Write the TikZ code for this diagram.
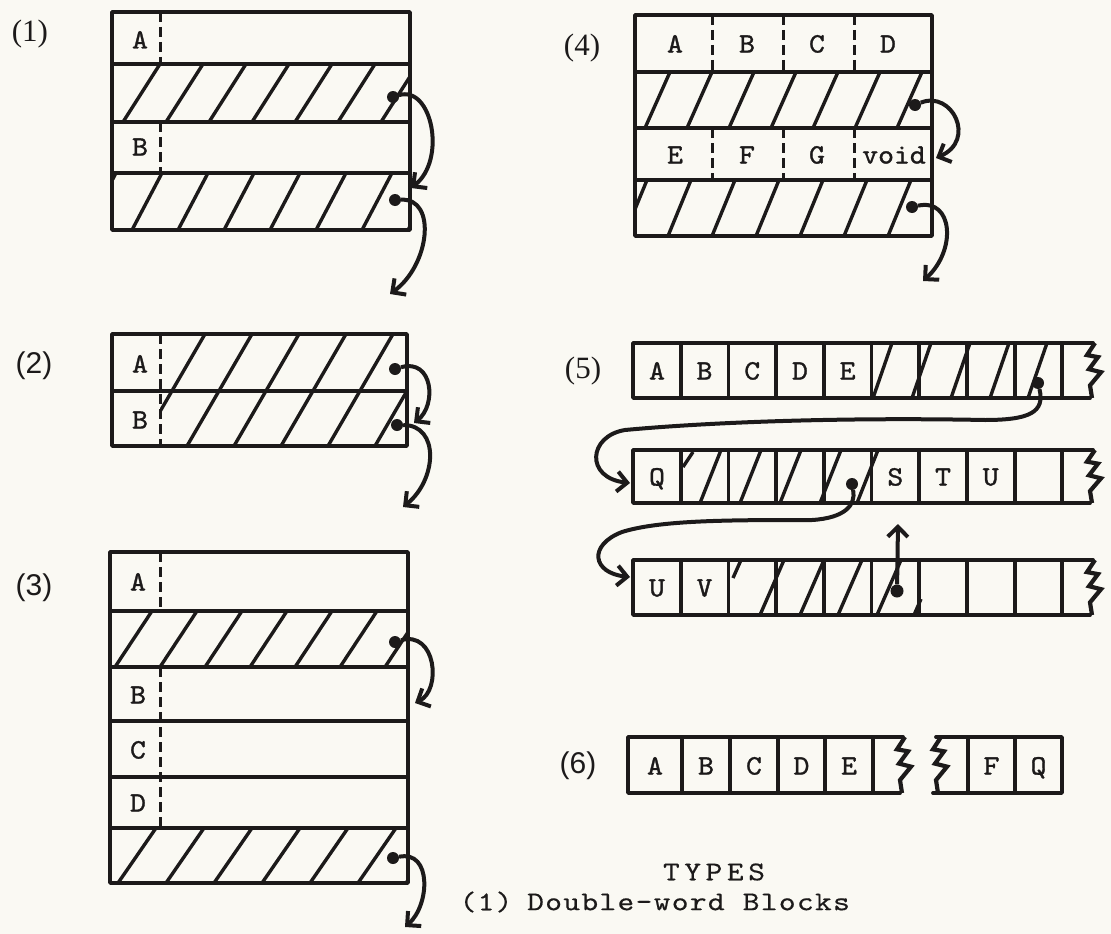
\documentclass[tikz,border=0pt]{standalone}
\usepackage{fontspec}
\newfontfamily\tagserif{Liberation Serif}
\newfontfamily\tagsans{Liberation Sans}
\newfontfamily\cellfont[FakeBold=1.2,FakeStretch=1.08]{lmmono10-regular.otf}
\newfontfamily\keyfont[FakeBold=0.4,FakeStretch=1.18,LetterSpace=5]{lmmono10-regular.otf}
\newfontfamily\typesfont[FakeBold=0.4,FakeStretch=1.18,LetterSpace=17]{lmmono10-regular.otf}
\usepackage{tikz}
\usetikzlibrary{arrows.meta}

\definecolor{paper}{RGB}{250,249,243}
\definecolor{ink}{RGB}{28,26,26}

% hatched band: left, top, right, bottom, first x, second x, rise
\newcommand\hatchband[7]{%
  \begin{scope}
    \clip (#1,#2) rectangle (#3,#4);
    \foreach \hx in {#5,#6,...,#3}
      \draw[hatch] (\hx,#4) -- ({\hx+#7},#2);
  \end{scope}}

% torn end of a word row: x, top, bottom
\newcommand\tearedge[3]{%
  \draw[tear] (#1,#2) -- ++(-8,{0.22*(#3-#2)}) -- ++(11,2) -- ++(-9,{0.22*(#3-#2)})
    -- ++(12,3) -- ++(-11,{0.24*(#3-#2)}) -- (#1-3,#3);}

\begin{document}
\begin{tikzpicture}[
        x=1pt, y=-1pt, color=ink,
        rule/.style={line width=3.8pt, line cap=round, line join=round},
        divider/.style={line width=3pt, dash pattern=on 10pt off 5pt},
        hatch/.style={line width=3.4pt},
        tear/.style={line width=4.2pt, line join=miter},
        ptr/.style={line width=4pt, -{Straight Barb[length=10pt,width=20pt]}},
        dot/.style={circle, fill, inner sep=0pt, minimum size=12pt},
        cell/.style={font=\fontsize{28}{28}\cellfont, inner sep=0pt, text height=17pt, text depth=0pt},
        tagA/.style={font=\fontsize{31}{31}\tagserif, inner sep=0pt},
        tagB/.style={font=\fontsize{30}{30}\tagsans, inner sep=0pt},
        note/.style={font=\fontsize{27}{27}\keyfont, inner sep=0pt}
    ]
        \fill[paper] (0,0) rectangle (1111,934);
        \useasboundingbox (0,0) rectangle (1111,934);

        % (1) double-word blocks
        \node[tagA] (n1) at (30,34) {(1)};
        \hatchband{112}{64}{410}{122}{123}{166}{37}
        \hatchband{112}{173}{410}{230}{86}{132}{30}
        \draw[divider] (160,12) -- (160,64) (160,122) -- (160,173);
        \draw[rule] (112,12) rectangle (410,230) (112,64) -- (410,64)
            (112,122) -- (410,122) (112,173) -- (410,173);
        \node[cell] (oneA) at (140,40) {A};
        \node[cell] (oneB) at (140,147) {B};
        \node[dot] (d1a) at (393,97) {};
        \node[dot] (d1b) at (395,200) {};
        \coordinate (t1a) at (411,188);
        \coordinate (t1b) at (390,294);
        \draw[ptr] (d1a) .. controls (432,85) and (447,160) .. (t1a);
        \draw[ptr] (d1b) .. controls (437,198) and (430,265) .. (t1b);

        % (2)
        \node[tagB] (n2) at (34,366) {(2)};
        \hatchband{160}{334}{407}{446}{140}{187}{65}
        \draw[divider] (160,334) -- (160,446);
        \draw[rule] (112,334) rectangle (407,446) (112,391) -- (407,391);
        \node[cell] (twoA) at (140,364) {A};
        \node[cell] (twoB) at (140,420) {B};
        \node[dot] (d2a) at (395,369) {};
        \node[dot] (d2b) at (397,425) {};
        \coordinate (t2a) at (414,423);
        \coordinate (t2b) at (403,507);
        \draw[ptr] (d2a) .. controls (433,358) and (437,405) .. (t2a);
        \draw[ptr] (d2b) .. controls (440,425) and (437,480) .. (t2b);

        % (3)
        \node[tagB] (n3) at (34,588) {(3)};
        \hatchband{110}{611}{408}{667}{115}{160}{37}
        \hatchband{110}{828}{408}{883}{70}{118}{38}
        \draw[divider] (160,552) -- (160,611) (160,667) -- (160,828);
        \draw[rule] (110,552) rectangle (408,883) (110,611) -- (408,611)
            (110,667) -- (408,667) (110,721) -- (408,721)
            (110,777) -- (408,777) (110,828) -- (408,828);
        \node[cell] (threeA) at (138,582) {A};
        \node[cell] (threeB) at (138,695) {B};
        \node[cell] (threeC) at (138,750) {C};
        \node[cell] (threeD) at (138,803) {D};
        \node[dot] (d3a) at (395,642) {};
        \node[dot] (d3b) at (393,858) {};
        \coordinate (t3a) at (415,703);
        \coordinate (t3b) at (405,927);
        \draw[ptr] (d3a) .. controls (436,630) and (442,690) .. (t3a);
        \draw[ptr] (d3b) .. controls (432,850) and (430,905) .. (t3b);

        % (4)
        \node[tagA] (n4) at (582,48) {(4)};
        \hatchband{635}{72}{932}{128}{645}{687}{25}
        \hatchband{635}{180}{932}{236}{624}{668}{23}
        \foreach \dx in {712,783,854}
            \draw[divider] (\dx,15) -- (\dx,72) (\dx,128) -- (\dx,180);
        \draw[rule] (635,15) rectangle (932,236) (635,72) -- (932,72)
            (635,128) -- (932,128) (635,180) -- (932,180);
        \node[cell] (fourA) at (675,44) {A};
        \node[cell] (fourB) at (747,44) {B};
        \node[cell] (fourC) at (817,44) {C};
        \node[cell] (fourD) at (888,44) {D};
        \node[cell] (fourE) at (675,155) {E};
        \node[cell] (fourF) at (747,155) {F};
        \node[cell] (fourG) at (817,155) {G};
        \node[cell] (fourV) at (894,155) {void};
        \node[dot] (d4a) at (915,105) {};
        \node[dot] (d4b) at (912,207) {};
        \coordinate (t4a) at (936,158);
        \coordinate (t4b) at (923,281);
        \draw[ptr] (d4a) .. controls (952,90) and (977,140) .. (t4a);
        \draw[ptr] (d4b) .. controls (953,198) and (957,250) .. (t4b);

        % (5) rows of single words
        \node[tagA] (n5) at (583,371) {(5)};
        \foreach \rt/\rb in {343/398,450/503,560/615} {
            \draw[rule] (1093,\rt) -- (633,\rt) -- (633,\rb) -- (1090,\rb);
            \foreach \cx in {680.7,728.4,776.1,823.8,871.5,919.2,966.9,1014.6,1062.3}
                \draw[rule] (\cx,\rt) -- (\cx,\rb);
            \tearedge{1095}{\rt}{\rb}
        }
        \foreach \hx in {873,912,951,990,1028}
            \draw[hatch] (\hx,398) -- ++(19,-55);
        \draw[hatch] (683,467) -- (693,452);
        \foreach \hx in {700,740,780,820,857}
            \draw[hatch] (\hx,503) -- ++(21,-53);
        \draw[hatch] (733,578) -- (741,560);
        \foreach \hx in {760,800,838,877}
            \draw[hatch] (\hx,615) -- ++(24,-55);
        \draw[hatch] (914,615) -- (921,599);
        \node[cell] (fiveA) at (657,371) {A};
        \node[cell] (fiveB) at (704.5,371) {B};
        \node[cell] (fiveC) at (752.2,371) {C};
        \node[cell] (fiveD) at (800,371) {D};
        \node[cell] (fiveE) at (847.6,371) {E};
        \node[cell] (fiveQ) at (657,477) {Q};
        \node[cell] (fiveS) at (895.3,477) {S};
        \node[cell] (fiveT) at (943,477) {T};
        \node[cell] (fiveU) at (990.7,477) {U};
        \node[cell] (fiveU2) at (657,588) {U};
        \node[cell] (fiveV) at (704.5,588) {V};
        \node[dot] (d5a) at (1038,383) {};
        \node[dot] (d5b) at (852,484) {};
        \node[dot, minimum size=13pt] (d5c) at (897,591) {};
        \coordinate (t5a) at (630,483);
        \coordinate (t5b) at (630,577);
        \coordinate (t5c) at (898,524);
        \draw[ptr] (d5a) .. controls (1045,412) and (1030,420) .. (985,420)
            .. controls (830,417) and (700,423) .. (625,430)
            .. controls (588,436) and (585,478) .. (t5a);
        \draw[ptr] (d5b) .. controls (856,505) and (845,518) .. (812,520)
            .. controls (730,520) and (660,520) .. (622,532)
            .. controls (588,545) and (592,573) .. (t5b);
        \draw[ptr] (d5c) -- (t5c);

        % (6) split row
        \node[tagB] (n6) at (578,766) {(6)};
        \draw[rule] (903,737) -- (628,737) -- (628,793) -- (900,793);
        \foreach \cx in {682,730,778,825,873}
            \draw[rule] (\cx,737) -- (\cx,793);
        \tearedge{905}{737}{793}
        \draw[rule] (936,737) -- (1062,737) -- (1062,793) -- (933,793);
        \foreach \cx in {968,1015}
            \draw[rule] (\cx,737) -- (\cx,793);
        \tearedge{941}{737}{793}
        \node[cell] (sixA) at (655,766) {A};
        \node[cell] (sixB) at (706,766) {B};
        \node[cell] (sixC) at (754,766) {C};
        \node[cell] (sixD) at (801.5,766) {D};
        \node[cell] (sixE) at (849,766) {E};
        \node[cell] (sixF) at (991.5,766) {F};
        \node[cell] (sixQ) at (1038.5,766) {Q};

        % key
        \node[note, font=\fontsize{27}{27}\typesfont] (types) at (714,872) {TYPES};
        \node[note] (k1) at (486,902) {(1)};
        \node[note, anchor=west] (k1t) at (527,902) {Double-word Blocks};
\end{tikzpicture}
\end{document}
